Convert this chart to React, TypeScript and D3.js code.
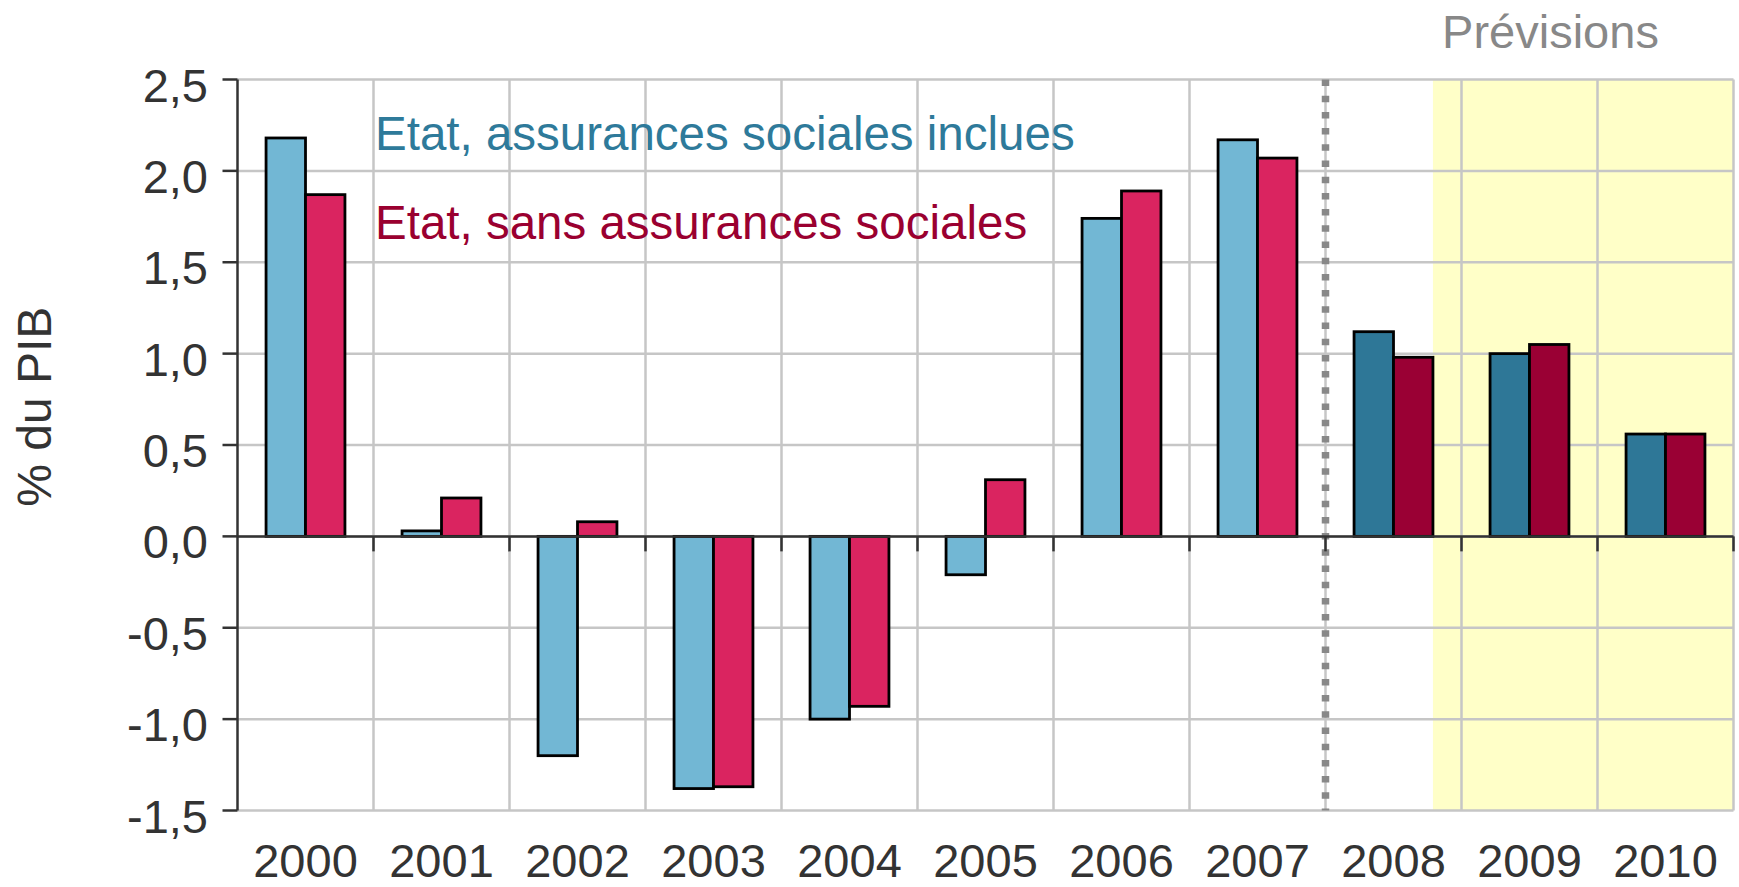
import React from 'react';
import * as d3 from 'd3';

const years = ['2000', '2001', '2002', '2003', '2004', '2005', '2006', '2007', '2008', '2009', '2010'];
const withSocial = [2.18, 0.03, -1.2, -1.38, -1.0, -0.21, 1.74, 2.17, 1.12, 1.0, 0.56];
const withoutSocial = [1.87, 0.21, 0.08, -1.37, -0.93, 0.31, 1.89, 2.07, 0.98, 1.05, 0.56];
const forecastYears = ['2008', '2009', '2010'];
const yTicks = [-1.5, -1.0, -0.5, 0, 0.5, 1.0, 1.5, 2.0, 2.5];
const seriesNames = ['Etat, assurances sociales inclues', 'Etat, sans assurances sociales'];
const yTitle = '% du PIB';
const forecastLabel = 'Prévisions';

const W = 1739;
const H = 887;
const X0 = 237.5;
const X1 = 1733.5;
const YT = 79.5;
const YB = 810.5;
const FONT = '"Liberation Sans", Arial, sans-serif';

const colors = {
  histA: '#72b7d4',
  histB: '#da2460',
  foreA: '#2e7797',
  foreB: '#9a0034',
  legA: '#2e7a9a',
  legB: '#9a0030',
  grid: '#c6c6c6',
  axis: '#333333',
  text: '#333333',
  fore: '#888888',
  shade: '#ffffc8',
};

const fmt = (v: number) => v.toFixed(1).replace('.', ',');

export default function App() {
  const x = d3.scaleBand<string>().domain(years).range([X0, X1]).padding(0);
  const bw = x.bandwidth();
  const sub = d3.scaleBand<string>().domain(['a', 'b']).range([0.21 * bw, 0.79 * bw]).padding(0);
  const y = d3.scaleLinear().domain([-1.5, 2.5]).range([YB, YT]);
  const y0 = y(0);

  const data = years.map((yr, i) => ({ yr, a: withSocial[i], b: withoutSocial[i], fc: forecastYears.includes(yr) }));
  const shadeX = (x('2008') as number) + 0.79 * bw;
  const divX = x('2008') as number;

  const bars: JSX.Element[] = [];
  data.forEach((d) => {
    (['a', 'b'] as const).forEach((k) => {
      const v = d[k];
      const fill = d.fc ? (k === 'a' ? colors.foreA : colors.foreB) : (k === 'a' ? colors.histA : colors.histB);
      bars.push(
        <rect
          key={d.yr + k}
          x={(x(d.yr) as number) + (sub(k) as number)}
          y={Math.min(y(v), y0)}
          width={sub.bandwidth()}
          height={Math.abs(y(v) - y0)}
          fill={fill}
          stroke="#000"
          strokeWidth={2.8}
        />
      );
    });
  });

  const boundaries = years.map((yr) => x(yr) as number).concat([X1]);

  return (
    <svg width={W} height={H} style={{ position: 'absolute', left: 0, top: 0, background: '#fff' }} fontFamily={FONT}>
      <rect x={0} y={0} width={W} height={H} fill="#fff" />
      <rect x={shadeX} y={YT} width={X1 - shadeX} height={YB - YT} fill={colors.shade} />
      {yTicks.map((t) => (
        <line key={'gy' + t} x1={X0} x2={X1} y1={y(t)} y2={y(t)} stroke={colors.grid} strokeWidth={2.5} />
      ))}
      {boundaries.slice(1).map((bx, i) => (
        <line key={'gx' + i} x1={bx} x2={bx} y1={YT} y2={YB} stroke={colors.grid} strokeWidth={2.5} />
      ))}
      <line x1={divX} x2={divX} y1={YT} y2={YB} stroke={colors.fore} strokeWidth={7.5} strokeDasharray="6.5 9.7" />
      {bars}
      <line x1={X0} x2={X0} y1={YT} y2={YB} stroke={colors.axis} strokeWidth={2.5} />
      <line x1={X0} x2={X1} y1={y0} y2={y0} stroke={colors.axis} strokeWidth={2.5} />
      {yTicks.map((t) => (
        <g key={'ty' + t}>
          <line x1={X0 - 15} x2={X0} y1={y(t)} y2={y(t)} stroke={colors.axis} strokeWidth={2.5} />
          <text x={208} y={y(t) + 22} textAnchor="end" fontSize={47} fill={colors.text}>{fmt(t)}</text>
        </g>
      ))}
      {boundaries.slice(1).map((bx, i) => (
        <line key={'tx' + i} x1={bx} x2={bx} y1={y0} y2={y0 + 15} stroke={colors.axis} strokeWidth={2.5} />
      ))}
      {years.map((yr) => (
        <text key={'lx' + yr} x={(x(yr) as number) + bw / 2} y={877} textAnchor="middle" fontSize={47} fill={colors.text}>{yr}</text>
      ))}
      <text x={375} y={150} fontSize={47.5} fill={colors.legA}>{seriesNames[0]}</text>
      <text x={375} y={239} fontSize={47.5} fill={colors.legB}>{seriesNames[1]}</text>
      <text x={1550.5} y={47.5} textAnchor="middle" fontSize={47} fill={colors.fore}>{forecastLabel}</text>
      <text transform="translate(50.7,406.7) rotate(-90)" textAnchor="middle" fontSize={48} fill={colors.text}>{yTitle}</text>
    </svg>
  );
}
